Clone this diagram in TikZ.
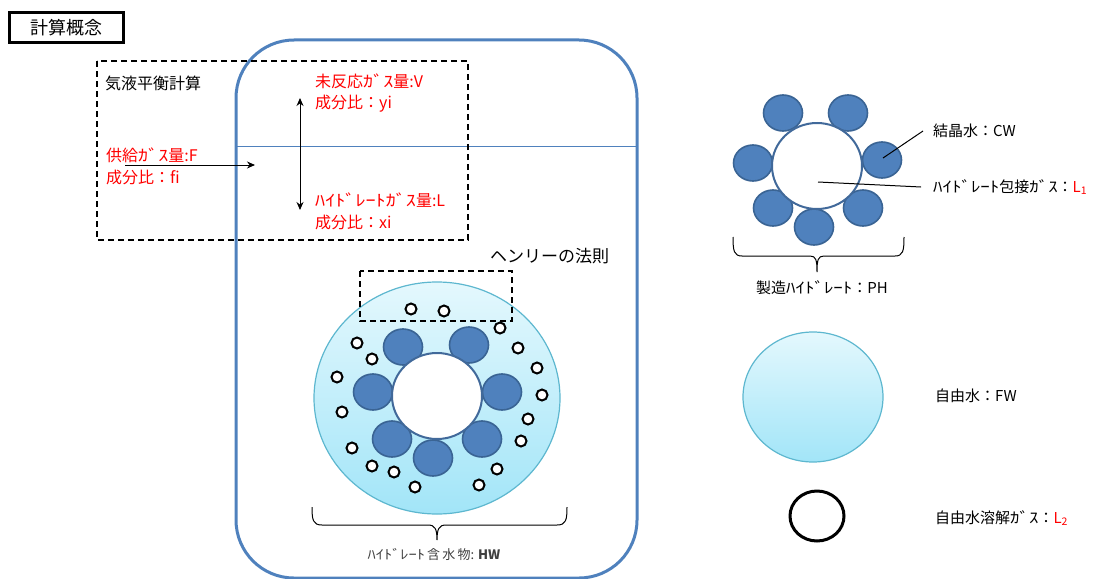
\documentclass[tikz,border=0pt]{standalone}
\usepackage{fontspec}
\usepackage{graphicx}
\setmainfont{Noto Sans CJK JP}
\usetikzlibrary{arrows.meta}
\definecolor{cblue}{HTML}{4F81BD}
\definecolor{cblueD}{HTML}{3A6494}
\definecolor{ringc}{HTML}{41699A}
\definecolor{waterT}{HTML}{E4F8FD}
\definecolor{waterB}{HTML}{A2E5F8}
\definecolor{waterE}{HTML}{5DB7CF}
\definecolor{redt}{HTML}{FF0000}
\definecolor{grayt}{HTML}{404040}
\newcommand{\hk}[1]{\scalebox{1.26}[1]{#1}}
\begin{document}
\begin{tikzpicture}[x=1pt,y=-1pt,
  txt/.style={anchor=west,inner sep=0pt,font=\fontsize{15}{18}\selectfont},
  rtxt/.style={txt,text=redt,font=\fontsize{16}{18}\selectfont},
  mol/.style={fill=cblue,draw=cblueD,line width=1.6pt},
  cage/.style={fill=white,draw=ringc,line width=2pt},
  gas/.style={fill=white,draw=black,line width=2pt},
  water/.style={top color=waterT,bottom color=waterB,draw=waterE,line width=1.2pt},
  dbox/.style={draw=black,line width=1.8pt,dash pattern=on 6pt off 4pt},
  thinline/.style={draw=black,line width=1pt},
  brc/.style={draw=black,line width=1pt}
]
\useasboundingbox (0,0) rectangle (1094,578);

% title
\node[draw=black,line width=2.5pt,minimum width=114pt,minimum height=30pt,inner sep=0pt,
  font=\fontsize{18}{20}\selectfont] (title) at (66.5,27.5) {計算概念};

% container
\draw[cblue,line width=3pt,rounded corners=58pt] (236,40) rectangle (637,578);
\coordinate (lvL) at (236,146);
\coordinate (lvR) at (637,146);
\draw[cblue,line width=1pt] (lvL) -- (lvR);

% vapour-liquid box
\draw[dbox] (97,61) rectangle (468,240);
\node[txt,font=\fontsize{16}{18}\selectfont] (vle) at (105,83) {気液平衡計算};
\node[rtxt] (v) at (315,81) {未反応\hk{ｶﾞｽ}量:V};
\node[rtxt] (yi) at (315,104) {成分比：yi};
\node[rtxt] (f) at (106,155) {供給\hk{ｶﾞｽ}量:F};
\node[rtxt] (fi) at (106,177) {成分比：fi};
\node[rtxt] (l) at (315,200) {\hk{ﾊｲﾄﾞﾚｰﾄｶﾞｽ}量:L};
\node[rtxt] (xi) at (315,222) {成分比：xi};
\coordinate (aTop) at (300,98);
\coordinate (aBot) at (300,210);
\draw[thinline,{Stealth[length=8pt,width=7pt]}-{Stealth[length=8pt,width=7pt]}] (aTop) -- (aBot);
\coordinate (fS) at (125,165);
\coordinate (fE) at (255,165);
\draw[thinline,-{Stealth[length=8pt,width=7pt]}] (fS) -- (fE);

% hydrate-containing water
\shade[water] (437,398) ellipse [x radius=123pt, y radius=116pt];
\node[txt,font=\fontsize{17}{18}\selectfont] (henry) at (490,256) {ヘンリーの法則};
\draw[dbox] (360,271) rectangle (512,321);

\foreach \p in {(403,347),(469,345),(373,392),(502,392),(392,439),(433,458),(482,439)}
  \filldraw[mol] \p ellipse [x radius=19.5pt, y radius=18pt];
\draw[cage] (437,396) ellipse [x radius=45pt, y radius=43pt];

\foreach \p in {(411,309),(444,311),(500,328),(357,343),(518,348),(372,359),(537,368),
  (337,377),(542,395),(342,412),(528,419),(521,441),(352,448),(372,466),(394,472),
  (497,469),(415,487),(479,485)}
  \draw[gas] \p circle [radius=5.5pt];

\draw[brc] (312,507) .. controls (312,520) and (313,525) .. (322,525) -- (428,525)
  .. controls (435,525) and (437,529) .. (437,540)
  .. controls (437,529) and (439,525) .. (446,525) -- (557,525)
  .. controls (566,525) and (567,520) .. (567,507);
\node[inner sep=0pt,text=grayt,font=\fontsize{13}{15}\selectfont] (hw) at (434,554)
  {\hk{ﾊｲﾄﾞﾚｰﾄ}\,含\,水\,物: \textbf{HW}};

% produced hydrate
\foreach \p in {(783,113),(848,113),(753,163),(882,160),(773,208),(814,227),(863,208)}
  \filldraw[mol] \p ellipse [x radius=19.5pt, y radius=18pt];
\draw[cage] (817,166) ellipse [x radius=45pt, y radius=43pt];
\coordinate (cwP) at (883,158);
\coordinate (gP) at (818,182);
\node[txt] (cw) at (933,131) {結晶水：CW};
\node[txt] (l1) at (933,187) {\hk{ﾊｲﾄﾞﾚｰﾄ}包接\hk{ｶﾞｽ}：\textcolor{redt}{L\textsubscript{1}}};
\draw[thinline] (cwP) -- ([xshift=-10pt]cw.west);
\draw[thinline] (gP) -- ([xshift=-12pt]l1.west);
\draw[brc] (733,237) .. controls (733,251) and (734,256) .. (742,256) -- (810,256)
  .. controls (816,256) and (817,260) .. (817,272)
  .. controls (817,260) and (818,256) .. (824,256) -- (895,256)
  .. controls (903,256) and (904,251) .. (904,237);
\node[inner sep=0pt,font=\fontsize{15}{18}\selectfont] (ph) at (822,288) {製造\hk{ﾊｲﾄﾞﾚｰﾄ}：PH};

% free water
\shade[water] (813,397) ellipse [x radius=70pt, y radius=65pt];
\node[txt] (fw) at (935,396) {自由水：FW};
\draw[black,line width=3pt] (817,516) ellipse [x radius=27pt, y radius=25pt];
\node[txt] (l2) at (935,518) {自由水溶解\hk{ｶﾞｽ}：\textcolor{redt}{L\textsubscript{2}}};
\end{tikzpicture}
\end{document}
